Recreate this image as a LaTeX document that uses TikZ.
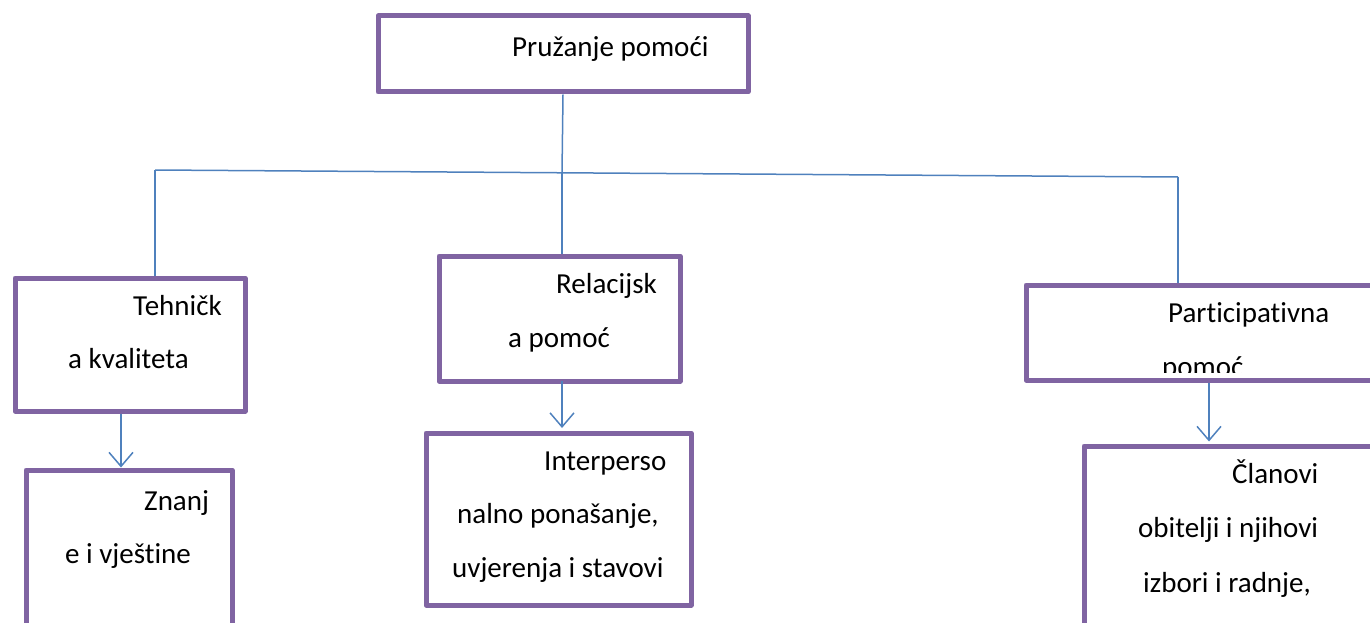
\documentclass[tikz,border=0pt]{standalone}
\usepackage{fontspec}
\setmainfont{Carlito}[Ligatures={NoCommon,NoContextual}]
\usepackage{tikz}
\usetikzlibrary{arrows.meta}

\begin{document}
\begin{tikzpicture}[
        x=1pt, y=-1pt,
        box/.style={draw=boxpurple, line width=5pt, line join=round, rectangle, inner sep=0pt},
        link/.style={draw=linkblue, line width=1.5pt},
        arr/.style={link, -{Straight Barb[length=14pt, width=24pt, line width=1.5pt]}},
        txt/.style={inner sep=0pt, font=\fontsize{29}{35}\selectfont}
    ]
    \definecolor{boxpurple}{HTML}{8064A2}
    \definecolor{linkblue}{HTML}{4F81BD}
    \useasboundingbox (0,0) rectangle (1370,623);
    \clip (0,0) rectangle (1370,623);

    \node[box, minimum width=370pt, minimum height=76pt] (top) at (563,54) {};
    \node[box, minimum width=230pt, minimum height=133pt] (tech) at (130,344.5) {};
    \node[box, minimum width=206pt, minimum height=210pt] (znanje) at (129,575) {};
    \node[box, minimum width=241pt, minimum height=125pt] (rel) at (559.5,318.5) {};
    \node[box, minimum width=265pt, minimum height=172pt] (inter) at (558.5,519) {};
    \node[box, minimum width=374pt, minimum height=95pt] (part) at (1213,332.5) {};
    \node[box, minimum width=336pt, minimum height=254pt] (clan) at (1252,573) {};

    \coordinate (jl) at (155,170);
    \coordinate (jm) at (562,173);
    \coordinate (jr) at (1178,177);

    \draw[link] (top.south) -- (jm);
    \draw[link] (jl) -- (jr);
    \draw[link] (jl) -- (jl |- tech.north);
    \draw[link] (jm) -- (jm |- rel.north);
    \draw[link] (jr) -- (jr |- part.north);

    \draw[arr] ([xshift=-9pt]tech.south) -- ([xshift=-9pt]tech.south |- znanje.north);
    \draw[arr] ([xshift=2.5pt, yshift=3pt]rel.south) -- ([xshift=2.5pt, yshift=2.5pt]rel.south |- inter.north);
    \draw[arr] ([xshift=-4pt]part.south) -- ([xshift=-4pt, yshift=2pt]part.south |- clan.north);

    \node[txt, anchor=base west] (t1) at (512,57) {Pružanje pomoći};

    \node[txt, anchor=base west] (t2) at (133,315) {Tehničk};
    \node[txt, anchor=base west] (t3) at (68,368) {a kvaliteta};
    \node[txt, anchor=base west] (t4) at (144,510) {Znanj};
    \node[txt, anchor=base west] (t5) at (65,563) {e i vještine};

    \node[txt, anchor=base west] (t6) at (556,293) {Relacijsk};
    \node[txt, anchor=base west] (t7) at (508,347) {a pomoć};
    \node[txt, anchor=base west] (t8) at (544,470) {Interperso};
    \node[txt, anchor=base west] (t9) at (457,523) {nalno ponašanje,};
    \node[txt, anchor=base west] (t10) at (452,577) {uvjerenja i stavovi};

    \node[txt, anchor=base west] (t11) at (1168,322) {Participativna};
    \begin{scope}
        \clip (1000,290) rectangle (1370,372);
        \node[txt, anchor=base west] (t12) at (1162,376) {pomoć};
    \end{scope}
    \node[txt, anchor=base west] (t13) at (1232,483) {Članovi};
    \node[txt, anchor=base west] (t14) at (1138,537) {obitelji i njihovi};
    \node[txt, anchor=base west] (t15) at (1143,592) {izbori i radnje,};
\end{tikzpicture}
\end{document}
